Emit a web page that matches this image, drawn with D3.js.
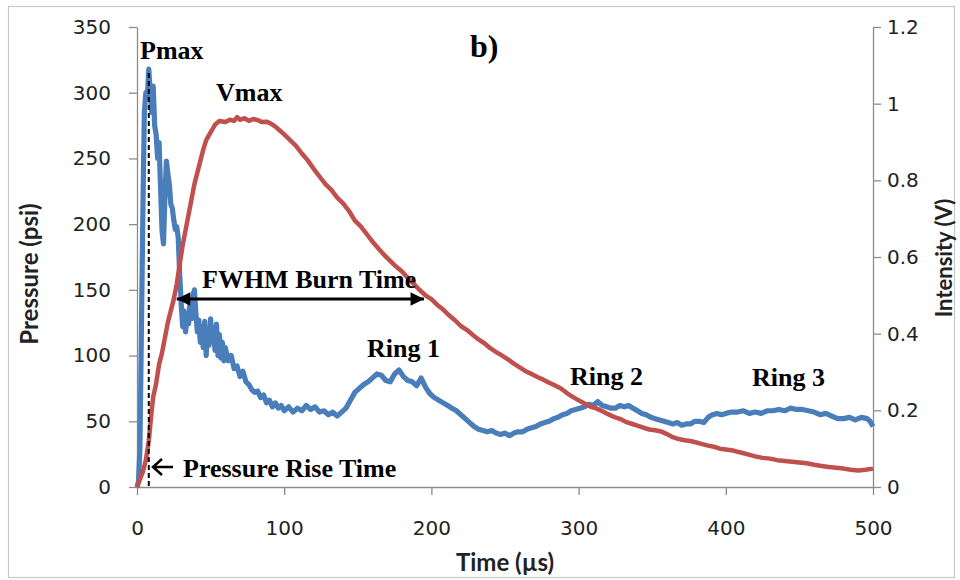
<!DOCTYPE html>
<html>
<head>
<meta charset="utf-8">
<script src="https://cdn.jsdelivr.net/npm/d3@7"></script>
<style>
  html, body { margin: 0; padding: 0; background: #fff; }
  svg { display: block; }
</style>
</head>
<body>
<svg id="chart" width="960" height="580"></svg>
<script>
// ---- data ----
const pressureTime = [0,1,2,3,4,5,6,7,8,9,10,11,12,13,14,15,16,17,18,19,20,21,22,23,24,25,26,27,28,29,30,31,32,33,34,35,36,37,38,39,40,41,42,43,44,45,46,47,48,49,50,51,52,53,54,55,56,57,58,59,60,62,64,66,68,70,72,74,76,78,80,82,84,86,88,90,92,94,96,98,100,103,106,109,112,115,118,121,124,127,130,133,136,139,142,145,148,151,154,157,160,163,166,169,172,175,178,181,184,187,190,193,196,199,202,205,208,211,214,217,220,223,226,229,232,235,238,241,244,247,250,253,256,259,262,265,268,271,274,277,280,283,286,289,292,295,298,301,304,307,310,313,316,319,322,325,328,331,334,337,340,343,346,349,352,355,358,361,364,367,370,373,376,379,382,385,388,391,394,397,400,404,408,412,416,420,424,428,432,436,440,444,448,452,456,460,464,468,472,476,480,484,488,492,496,498,500];
const pressure = [0,4,30,120,210,285,300,296,318,300,285,305,275,268,250,262,228,195,185,222,248,238,230,215,212,203,196,198,190,162,140,122,134,118,130,124,140,128,146,150,132,118,127,110,122,106,126,100,120,108,128,112,118,104,124,100,116,98,110,96,106,96,100,90,92,84,88,80,78,74,72,73,68,70,64,66,61,64,60,62,58,61,57,60,58,62,59,61,57,58,55,57,54,57,60,66,72,75,78,80,83,86,85,81,80,86,89,84,81,80,77,83,76,71,68,66,64,62,60,58,55,52,49,46,44,43,42,43,41,40,41,39,41,42,42,44,45,46,48,49,50,52,53,55,56,58,59,60,61,63,62,65,62,61,60,60,62,61,62,60,58,56,55,53,52,51,50,49,48,49,47,48,48,50,50,49,53,55,56,55,56,57,57,58,56,57,56,58,58,59,58,60,59,59,58,57,55,56,54,52,52,53,51,53,52,50,46];

const intensityTime = [0,2,4,6,8,10,11,13,15,17,19,21,23,25,27,29,31,33,35,37,39,41,43,45,47,50,53,56,60,63,66,68,70,73,76,79,82,85,88,91,94,97,100,104,108,112,116,120,124,128,132,136,140,144,148,152,156,160,164,168,172,176,180,184,188,192,196,200,204,208,212,216,220,224,228,232,236,240,244,248,252,256,260,264,268,272,276,280,284,288,292,296,300,304,308,312,316,320,324,328,332,336,340,344,348,352,356,360,364,368,372,376,380,384,388,392,396,400,405,410,415,420,425,430,435,440,445,450,455,460,465,470,475,480,485,490,495,500];
const intensity = [0,0.02,0.04,0.07,0.12,0.20,0.235,0.27,0.32,0.35,0.39,0.43,0.46,0.49,0.53,0.58,0.63,0.67,0.71,0.75,0.79,0.82,0.85,0.88,0.905,0.925,0.945,0.955,0.952,0.958,0.955,0.965,0.958,0.962,0.955,0.96,0.957,0.952,0.953,0.948,0.94,0.93,0.92,0.905,0.89,0.87,0.852,0.83,0.81,0.79,0.775,0.755,0.74,0.72,0.695,0.68,0.66,0.64,0.622,0.605,0.59,0.575,0.562,0.545,0.53,0.514,0.5,0.49,0.475,0.463,0.448,0.435,0.42,0.41,0.397,0.385,0.375,0.362,0.352,0.343,0.333,0.322,0.312,0.302,0.295,0.287,0.28,0.272,0.265,0.257,0.245,0.235,0.226,0.218,0.21,0.205,0.198,0.19,0.183,0.178,0.17,0.165,0.16,0.155,0.15,0.148,0.145,0.138,0.13,0.125,0.122,0.12,0.116,0.112,0.108,0.105,0.1,0.098,0.095,0.09,0.085,0.08,0.076,0.074,0.07,0.068,0.066,0.064,0.062,0.058,0.055,0.052,0.05,0.048,0.045,0.043,0.045,0.048];

const timeTicks = [0,100,200,300,400,500];
const pressureTicks = [0,50,100,150,200,250,300,350];
const intensityTicks = [0,0.2,0.4,0.6,0.8,1,1.2];
const pmaxTime = 8;
const fwhmStart = 27, fwhmEnd = 195;

// ---- layout ----
const svg = d3.select("#chart");
const L = 137, R = 873, T = 27, B = 487;
const x = d3.scaleLinear().domain([0,500]).range([L,R]);
const yP = d3.scaleLinear().domain([0,350]).range([B,T]);
const yI = d3.scaleLinear().domain([0,1.2]).range([B,T]);

svg.append("rect").attr("x",8.5).attr("y",6.5).attr("width",946).attr("height",571)
  .attr("fill","#fff").attr("stroke","#c8c8c8").attr("stroke-width",1.2);

const tickFont = "DejaVu Sans, sans-serif";
const axisColor = "#8c8c8c";

function styleAxis(g){
  g.select(".domain").attr("stroke",axisColor).attr("stroke-width",1.3);
  g.selectAll(".tick line").attr("stroke",axisColor).attr("stroke-width",1.3);
  g.selectAll(".tick text").attr("font-family",tickFont).attr("font-size",20).attr("fill","#222");
}

const gx = svg.append("g").attr("transform",`translate(0,${B})`)
  .call(d3.axisBottom(x).tickValues(timeTicks).tickSize(8).tickSizeOuter(0).tickPadding(26).tickFormat(d3.format("d")));
styleAxis(gx);

const gl = svg.append("g").attr("transform",`translate(${L},0)`)
  .call(d3.axisLeft(yP).tickValues(pressureTicks).tickSize(8).tickSizeOuter(0).tickPadding(18).tickFormat(d3.format("d")));
styleAxis(gl);

const gr = svg.append("g").attr("transform",`translate(${R},0)`)
  .call(d3.axisRight(yI).tickValues(intensityTicks).tickSize(8).tickSizeOuter(0).tickPadding(6).tickFormat(d => d3.format("~g")(d)));
styleAxis(gr);

// axis titles
const titleFont = "Lato, 'Open Sans', sans-serif";
svg.append("text").attr("x",505).attr("y",571).attr("text-anchor","middle")
  .attr("font-family",titleFont).attr("font-weight","bold").attr("font-size",24).attr("fill","#222")
  .text("Time (\u00b5s)");
svg.append("text").attr("transform","translate(38,274) rotate(-90)").attr("text-anchor","middle")
  .attr("font-family",titleFont).attr("font-weight","bold").attr("font-size",24).attr("fill","#222")
  .text("Pressure (psi)");
svg.append("text").attr("transform","translate(952,258) rotate(-90)").attr("text-anchor","middle")
  .attr("font-family",titleFont).attr("font-weight","bold").attr("font-size",22).attr("fill","#222")
  .text("Intensity (V)");

// series
const pLine = d3.line().x((d,i)=>x(pressureTime[i])).y(d=>yP(d));
const iLine = d3.line().x((d,i)=>x(intensityTime[i])).y(d=>yI(d));

svg.append("path").datum(pressure).attr("d",pLine).attr("fill","none")
  .attr("stroke","#4a7ebb").attr("stroke-width",5.2).attr("stroke-linejoin","round");
svg.append("path").datum(intensity).attr("d",iLine).attr("fill","none")
  .attr("stroke","#c0504d").attr("stroke-width",4.5).attr("stroke-linejoin","round");

// dashed Pmax line
svg.append("line").attr("x1",x(pmaxTime)).attr("x2",x(pmaxTime))
  .attr("y1",yP(318)+4).attr("y2",B)
  .attr("stroke","#000").attr("stroke-width",2).attr("stroke-dasharray","5,3");

// annotations
const annFont = "'Liberation Serif', 'Times New Roman', serif";
function ann(tx,ty,s,size){
  svg.append("text").attr("x",tx).attr("y",ty).attr("font-family",annFont)
    .attr("font-weight","bold").attr("font-size",size||26).attr("fill","#000").text(s);
}
ann(140,59,"Pmax");
ann(216,101,"Vmax");
ann(470,57,"b)",32);
ann(202,288,"FWHM Burn Time");
ann(367,357,"Ring 1");
ann(570,385,"Ring 2");
ann(752,386,"Ring 3");
ann(183,477,"Pressure Rise Time");

// FWHM double arrow
const defs = svg.append("defs");
defs.append("marker").attr("id","ah").attr("viewBox","0 0 10 10").attr("refX",10).attr("refY",5)
  .attr("markerWidth",5).attr("markerHeight",4.5).attr("markerUnits","strokeWidth").attr("orient","auto-start-reverse")
  .append("path").attr("d","M0,0 L10,5 L0,10 Z").attr("fill","#000");
svg.append("line").attr("x1",x(fwhmStart)).attr("x2",x(fwhmEnd))
  .attr("y1",299).attr("y2",299).attr("stroke","#000").attr("stroke-width",3)
  .attr("marker-start","url(#ah)").attr("marker-end","url(#ah)");

// Pressure rise time arrow (left-pointing)
svg.append("path").attr("d","M173,467 L153,467 M162,459 L153,467 L162,475")
  .attr("fill","none").attr("stroke","#000").attr("stroke-width",2.5);
</script>
</body>
</html>
